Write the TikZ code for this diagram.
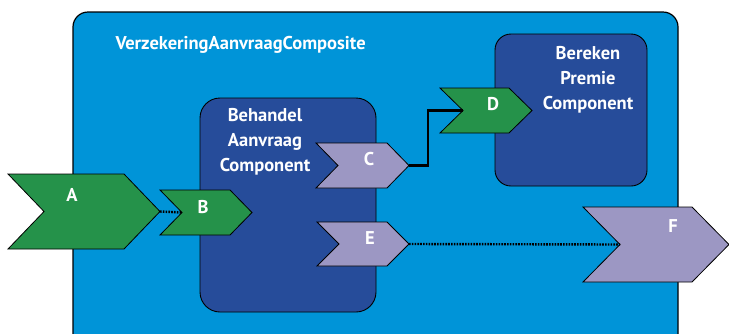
\documentclass[tikz,border=0pt]{standalone}
\usepackage{fontspec}
\setsansfont{PT Sans}
\usepackage{tikz}
\definecolor{compositeblue}{RGB}{0,148,216}
\definecolor{componentblue}{RGB}{38,76,154}
\definecolor{servicegreen}{RGB}{37,146,74}
\definecolor{referencelilac}{RGB}{156,151,195}
\tikzset{every node/.style={text=white, font=\sffamily\bfseries\fontsize{18.5}{25}\selectfont}}
\tikzset{chevron/.style={draw=black, line width=0.8pt, line join=miter}}
\tikzset{wire/.style={draw=black, line width=2.4pt}}
\tikzset{dotwire/.style={wire, dash pattern=on 1.6pt off 1.2pt}}
% chevron: name, left x, top y, width, height, point depth, fill
\newcommand{\chev}[7]{%
  \draw[chevron, fill=#7] (#2,#3) -- ++(#4-#6,0) -- ++(#6,#5/2) -- ++(-#6,#5/2)
     -- ++(#6-#4,0) -- ++(#6,-#5/2) -- cycle;
  \coordinate (#1-in) at (#2+#6,#3+#5/2);
  \coordinate (#1-out) at (#2+#4,#3+#5/2);
}

\begin{document}
\begin{tikzpicture}[x=1pt,y=-1pt]
    \useasboundingbox (0,0) rectangle (729,333);
    \clip (0,0) rectangle (729,333);
    % composite
    \draw[fill=compositeblue, line width=1.2pt, rounded corners=15pt] (73,12) rectangle (678,360);
    \node[anchor=west] (title) at (112,45) {VerzekeringAanvraagComposite};
    % components
    \draw[fill=componentblue, line width=0.9pt, rounded corners=20pt] (200,98) rectangle (376,312);
    \draw[fill=componentblue, line width=0.9pt, rounded corners=16pt] (495,34) rectangle (647,186);
    \node[align=center] (behandel) at (265,142) {Behandel\\Aanvraag\\Component};
    \node[align=center] (bereken) at (588,80) {Bereken\\Premie\\Component};
    % services and references
    \chev{A}{8}{174}{152}{75}{36}{servicegreen}
    \chev{B}{160}{190}{92}{45}{22}{servicegreen}
    \chev{C}{316}{143}{93}{45}{22}{referencelilac}
    \chev{D}{440}{88}{92}{45}{23}{servicegreen}
    \chev{E}{317}{222}{92}{44}{22}{referencelilac}
    \chev{F}{583}{207}{146}{75}{37}{referencelilac}
    \node (a) at (72,195) {A};
    \node (b) at (203,207) {B};
    \node (c) at (369,159) {C};
    \node (d) at (493,104) {D};
    \node (e) at (370,238) {E};
    \node (f) at (673,226) {F};
    % wires
    \draw[dotwire] (A-out) -- (B-in);
    \draw[wire] (C-out) -- ++(19,0) |- (D-in);
    \draw[dotwire] (E-out) -- (F-in);
\end{tikzpicture}
\end{document}
